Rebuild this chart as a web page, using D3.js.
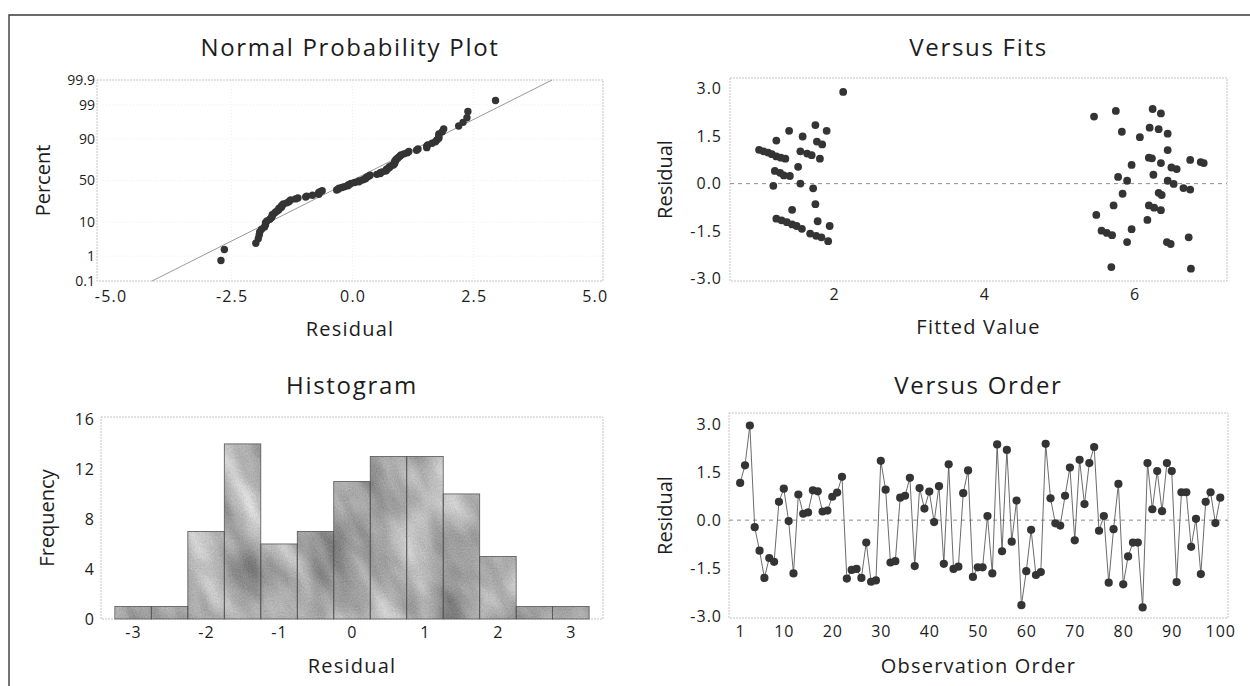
<!DOCTYPE html>
<html><head><meta charset="utf-8">
<script src="https://cdn.jsdelivr.net/npm/d3@7"></script>
<style>
body{margin:0;background:#fff}
svg{display:block}
text{font-family:"Open Sans",sans-serif;fill:#1c1c1c}
</style></head><body>
<svg id="c" width="1250" height="686"></svg>
<script>
// ---------------- DATA ----------------
// residuals in observation order (1..100)
const residuals = [1.16,1.71,2.95,-0.22,-0.95,-1.80,-1.18,-1.30,0.57,0.98,
 -0.03,-1.66,0.80,0.20,0.24,0.93,0.90,0.27,0.30,0.73,
 0.86,1.35,-1.82,-1.55,-1.52,-1.80,-0.70,-1.92,-1.88,1.85,
 0.95,-1.32,-1.28,0.70,0.76,1.32,-1.43,1.00,0.36,0.89,
 -0.06,1.06,-1.36,1.74,-1.52,-1.45,0.84,1.55,-1.77,-1.47,
 -1.47,0.13,-1.66,2.36,-0.97,2.19,-0.67,0.61,-2.65,-1.59,
 -0.30,-1.71,-1.62,2.38,0.68,-0.10,-0.17,0.76,1.64,-0.63,
 1.88,0.50,1.78,2.28,-0.33,0.13,-1.95,-0.28,1.13,-2.00,
 -1.13,-0.70,-0.70,-2.72,1.78,0.34,1.53,0.28,1.78,1.53,
 -1.93,0.87,0.87,-0.83,0.04,-1.68,0.57,0.87,-0.09,0.70];

// versus fits: fitted value / residual pairs
const fittedValues = [1.00,1.06,1.12,1.17,1.23,1.29,1.35,1.23,1.40,1.58,1.75,1.90,1.77,1.84,
 1.55,1.64,1.70,1.81,1.52,1.21,1.28,1.33,1.41,1.19,1.55,1.72,1.75,1.44,1.78,1.94,
 1.23,1.30,1.37,1.44,1.50,1.57,1.68,1.76,1.83,1.92,2.12,
 5.46,5.75,6.24,6.35,5.83,6.07,6.20,6.32,6.44,6.44,6.19,6.23,
 5.96,6.35,6.49,6.56,6.74,6.88,6.92,5.78,5.90,6.25,6.44,6.52,6.65,6.74,
 5.84,6.32,6.36,5.72,6.19,6.26,6.35,5.49,6.17,5.96,5.56,5.63,5.70,
 5.90,6.43,6.48,6.72,5.69,6.75];
const fitResiduals = [1.07,1.02,0.98,0.93,0.86,0.82,0.79,1.36,1.67,1.49,1.85,1.67,1.33,1.24,
 1.02,0.95,0.90,0.79,0.53,0.40,0.34,0.26,0.24,-0.07,0.00,-0.15,-0.65,-0.83,-1.19,-1.34,
 -1.11,-1.16,-1.22,-1.29,-1.34,-1.43,-1.58,-1.65,-1.70,-1.82,2.90,
 2.12,2.30,2.36,2.22,1.64,1.47,1.77,1.72,1.58,1.06,0.82,0.80,
 0.59,0.65,0.51,0.46,0.75,0.68,0.65,0.21,0.09,0.28,0.09,-0.01,-0.14,-0.19,
 -0.32,-0.29,-0.36,-0.69,-0.69,-0.76,-0.84,-0.99,-1.15,-1.44,-1.49,-1.56,-1.63,
 -1.85,-1.85,-1.91,-1.70,-2.64,-2.69];

// histogram bins (edges) and frequencies
const binEdges  = [-3.25,-2.75,-2.25,-1.75,-1.25,-0.75,-0.25,0.25,0.75,1.25,1.75,2.25,2.75,3.25];
const binCounts = [1,1,7,14,6,7,11,13,13,10,5,1,1];

// tick labels
const percentTicks = [0.1,1,10,50,90,99,99.9];
const nppXTicks = [-5,-2.5,0,2.5,5];
const fitsXTicks = [2,4,6];
const residualTicks = [-3,-1.5,0,1.5,3];
const histXTicks = [-3,-2,-1,0,1,2,3];
const histYTicks = [0,4,8,12,16];
const orderTicks = [1,10,20,30,40,50,60,70,80,90,100];

// ---------------- HELPERS ----------------
function probit(p){
 const a=[-3.969683028665376e+01,2.209460984245205e+02,-2.759285104469687e+02,1.383577518672690e+02,-3.066479806614716e+01,2.506628277459239e+00];
 const b=[-5.447609879822406e+01,1.615858368580409e+02,-1.556989798598866e+02,6.680131188771972e+01,-1.328068155288572e+01];
 const c=[-7.784894002430293e-03,-3.223964580411365e-01,-2.400758277161838e+00,-2.549732539343734e+00,4.374664141464968e+00,2.938163982698783e+00];
 const d=[7.784695709041462e-03,3.224671290700398e-01,2.445134137142996e+00,3.754408661907416e+00];
 const pl=0.02425, ph=1-pl; let q,r;
 if(p<pl){q=Math.sqrt(-2*Math.log(p));return (((((c[0]*q+c[1])*q+c[2])*q+c[3])*q+c[4])*q+c[5])/((((d[0]*q+d[1])*q+d[2])*q+d[3])*q+1);}
 if(p>ph){q=Math.sqrt(-2*Math.log(1-p));return -(((((c[0]*q+c[1])*q+c[2])*q+c[3])*q+c[4])*q+c[5])/((((d[0]*q+d[1])*q+d[2])*q+d[3])*q+1);}
 q=p-0.5;r=q*q;
 return (((((a[0]*r+a[1])*r+a[2])*r+a[3])*r+a[4])*r+a[5])*q/(((((b[0]*r+b[1])*r+b[2])*r+b[3])*r+b[4])*r+1);
}
const fmt1 = d => d.toFixed(1);          // hyphen-minus like the original
const fmt0 = d => String(d);

const svg = d3.select("#c");
const defs = svg.append("defs");
const f = defs.append("filter").attr("id","mottle").attr("color-interpolation-filters","sRGB");
f.append("feTurbulence").attr("type","fractalNoise").attr("baseFrequency","0.012 0.026").attr("numOctaves",3).attr("seed",5).attr("result","noise");
f.append("feColorMatrix").attr("in","noise").attr("type","matrix")
 .attr("values","0.55 0 0 0 0.39  0.55 0 0 0 0.39  0.55 0 0 0 0.39  0 0 0 0 1").attr("result","gray");
f.append("feTurbulence").attr("type","fractalNoise").attr("baseFrequency","0.9").attr("numOctaves",1).attr("seed",2).attr("result","fine");
f.append("feColorMatrix").attr("in","fine").attr("type","matrix")
 .attr("values","1 0 0 0 0  1 0 0 0 0  1 0 0 0 0  0 0 0 0 1").attr("result","fineg");
f.append("feComposite").attr("in","gray").attr("in2","fineg").attr("operator","arithmetic")
 .attr("k1",0).attr("k2",1).attr("k3",0.26).attr("k4",-0.13);

// outer frame
svg.append("path").attr("d","M9,686 V15 H1250").attr("fill","none").attr("stroke","#3a3a3a").attr("stroke-width",1.4);

const P = {
 npp:{l:97,r:603,t:80,b:281},
 fits:{l:730,r:1227,t:78,b:281},
 hist:{l:101,r:603,t:417,b:619},
 order:{l:729,r:1228,t:413,b:618}
};

function frame(p){
 svg.append("rect").attr("x",p.l).attr("y",p.t).attr("width",p.r-p.l).attr("height",p.b-p.t)
  .attr("fill","none").attr("stroke","#c4c4c4").attr("stroke-width",1).attr("stroke-dasharray","2,1");
}
function title(p,txt,y){
 svg.append("text").attr("x",(p.l+p.r)/2).attr("y",y).attr("text-anchor","middle")
  .attr("font-size",24).attr("letter-spacing","1.7px").text(txt);
}
function xlabel(p,txt,y){
 svg.append("text").attr("x",(p.l+p.r)/2).attr("y",y).attr("text-anchor","middle")
  .attr("dominant-baseline","central").attr("font-size",20).attr("letter-spacing","1.2px").text(txt);
}
function ylabel(p,txt,x){
 svg.append("text").attr("transform",`translate(${x},${(p.t+p.b)/2}) rotate(-90)`).attr("text-anchor","middle")
  .attr("dominant-baseline","central").attr("font-size",20).text(txt);
}
function styleAxis(g,size,ls){
 g.select(".domain").remove();
 g.selectAll("text").attr("font-size",size).attr("letter-spacing",ls).attr("fill","#1c1c1c")
  .style("font-family",'"Open Sans",sans-serif');
}

// ---------------- NORMAL PROBABILITY PLOT ----------------
{
 const p=P.npp;
 const zmin=probit(0.001), zmax=probit(0.999);
 const x=d3.scaleLinear([-5.28,5.17],[p.l,p.r]);
 const y=d3.scaleLinear([zmin,zmax],[p.b,p.t]);
 const gg=svg.append("g").attr("stroke","#efefef").attr("stroke-dasharray","1,2");
 gg.selectAll("line.v").data(nppXTicks.slice(1,-1)).join("line").attr("x1",d=>x(d)).attr("x2",d=>x(d)).attr("y1",p.t).attr("y2",p.b);
 gg.selectAll("line.h").data(percentTicks.slice(1,-1)).join("line").attr("y1",d=>y(probit(d/100))).attr("y2",d=>y(probit(d/100))).attr("x1",p.l).attr("x2",p.r);
 frame(p);
 const n=residuals.length;
 const sorted=residuals.slice().sort(d3.ascending);
 const pts=sorted.map((v,i)=>({v,z:probit((i+1-0.3)/(n+0.4))}));
 const mu=d3.mean(residuals), sd=d3.deviation(residuals);
 svg.append("line").attr("x1",x(mu+sd*zmin)).attr("y1",y(zmin)).attr("x2",x(mu+sd*zmax)).attr("y2",y(zmax))
  .attr("stroke","#9a9a9a").attr("stroke-width",1);
 svg.append("g").selectAll("circle").data(pts).join("circle")
  .attr("cx",d=>x(d.v)).attr("cy",d=>y(d.z)).attr("r",3.7).attr("fill","#343434");
 const ax=svg.append("g").attr("transform",`translate(0,${p.b})`)
  .call(d3.axisBottom(x).tickValues(nppXTicks).tickSize(0).tickPadding(10).tickFormat(fmt1));
 styleAxis(ax,16,"1.2px");
 const ay=svg.append("g").attr("transform",`translate(${p.l},0)`)
  .call(d3.axisLeft(y).tickValues(percentTicks.map(t=>probit(t/100))).tickSize(0).tickPadding(2)
   .tickFormat((d,i)=>String(percentTicks[i])));
 styleAxis(ay,14,"0px");
 title(p,"Normal Probability Plot",56);
 xlabel(p,"Residual",328);
 ylabel(p,"Percent",42);
}

// ---------------- VERSUS FITS ----------------
{
 const p=P.fits;
 const x=d3.scaleLinear([0.613,7.23],[p.l,p.r]);
 const y=d3.scaleLinear([-3.08,3.34],[p.b,p.t]);
 frame(p);
 svg.append("line").attr("x1",p.l).attr("x2",p.r).attr("y1",y(0)).attr("y2",y(0))
  .attr("stroke","#8c8c8c").attr("stroke-dasharray","4,4");
 svg.append("g").selectAll("circle").data(fittedValues).join("circle")
  .attr("cx",d=>x(d)).attr("cy",(d,i)=>y(fitResiduals[i])).attr("r",3.9).attr("fill","#343434");
 const ax=svg.append("g").attr("transform",`translate(0,${p.b})`)
  .call(d3.axisBottom(x).tickValues(fitsXTicks).tickSize(0).tickPadding(8).tickFormat(fmt0));
 styleAxis(ax,16,"1.2px");
 const ay=svg.append("g").attr("transform",`translate(${p.l},0)`)
  .call(d3.axisLeft(y).tickValues(residualTicks).tickSize(0).tickPadding(8).tickFormat(fmt1));
 styleAxis(ay,16,"1px");
 title(p,"Versus Fits",56);
 xlabel(p,"Fitted Value",326);
 ylabel(p,"Residual",664);
}

// ---------------- HISTOGRAM ----------------
{
 const p=P.hist;
 const x=d3.scaleLinear([-3.44,3.44],[p.l,p.r]);
 const y=d3.scaleLinear([0,16.15],[p.b,p.t]);
 frame(p);
 const bins=binCounts.map((c,i)=>({x0:binEdges[i],x1:binEdges[i+1],c}));
 const clip=defs.append("clipPath").attr("id","barsClip");
 clip.selectAll("rect").data(bins).join("rect")
  .attr("x",d=>x(d.x0)).attr("width",d=>x(d.x1)-x(d.x0)).attr("y",d=>y(d.c)).attr("height",d=>y(0)-y(d.c));
 const cx=(p.l+p.r)/2, cy=(p.t+p.b)/2;
 svg.append("g").attr("clip-path","url(#barsClip)")
  .append("g").attr("transform",`rotate(62,${cx},${cy})`)
  .append("rect").attr("x",cx-420).attr("y",cy-420).attr("width",840).attr("height",840)
  .attr("fill","#aaa").attr("filter","url(#mottle)");
 svg.append("g").selectAll("rect").data(bins).join("rect")
  .attr("x",d=>x(d.x0)).attr("width",d=>x(d.x1)-x(d.x0)).attr("y",d=>y(d.c)).attr("height",d=>y(0)-y(d.c))
  .attr("fill","none").attr("stroke","#555").attr("stroke-width",0.8);
 const ax=svg.append("g").attr("transform",`translate(0,${p.b})`)
  .call(d3.axisBottom(x).tickValues(histXTicks).tickSize(0).tickPadding(8).tickFormat(fmt0));
 styleAxis(ax,16,"1.2px");
 const ay=svg.append("g").attr("transform",`translate(${p.l},0)`)
  .call(d3.axisLeft(y).tickValues(histYTicks).tickSize(0).tickPadding(6).tickFormat(fmt0));
 styleAxis(ay,16,"1px");
 title(p,"Histogram",394);
 xlabel(p,"Residual",665);
 ylabel(p,"Frequency",46);
}

// ---------------- VERSUS ORDER ----------------
{
 const p=P.order;
 const x=d3.scaleLinear([-1.3,101.6],[p.l,p.r]);
 const y=d3.scaleLinear([-3.05,3.34],[p.b,p.t]);
 frame(p);
 svg.append("line").attr("x1",p.l).attr("x2",p.r).attr("y1",y(0)).attr("y2",y(0))
  .attr("stroke","#8c8c8c").attr("stroke-dasharray","4,4");
 const line=d3.line().x((d,i)=>x(i+1)).y(d=>y(d));
 svg.append("path").attr("d",line(residuals)).attr("fill","none").attr("stroke","#5a5a5a").attr("stroke-width",0.9);
 svg.append("g").selectAll("circle").data(residuals).join("circle")
  .attr("cx",(d,i)=>x(i+1)).attr("cy",d=>y(d)).attr("r",4.1).attr("fill","#343434");
 const ax=svg.append("g").attr("transform",`translate(0,${p.b})`)
  .call(d3.axisBottom(x).tickValues(orderTicks).tickSize(0).tickPadding(8).tickFormat(fmt0));
 styleAxis(ax,16,"1px");
 const ay=svg.append("g").attr("transform",`translate(${p.l},0)`)
  .call(d3.axisLeft(y).tickValues(residualTicks).tickSize(0).tickPadding(7).tickFormat(fmt1));
 styleAxis(ay,16,"1px");
 title(p,"Versus Order",394);
 xlabel(p,"Observation Order",665);
 ylabel(p,"Residual",664);
}
</script>
</body></html>
